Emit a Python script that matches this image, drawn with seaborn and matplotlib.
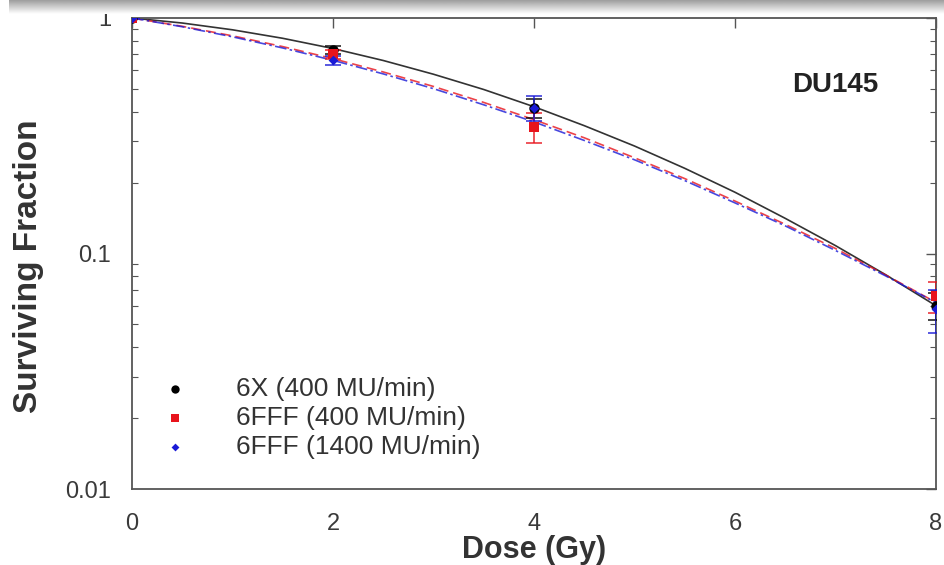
import numpy as np
import pandas as pd
import matplotlib
matplotlib.use("Agg")
import matplotlib.pyplot as plt
import seaborn as sns

# ---- data ----
dose_pts = [0, 2, 4, 8]
sf_6x = [1.0, 0.73, 0.415, 0.060]
err_6x = [0.0, 0.03, 0.04, 0.008]
sf_fff400 = [1.0, 0.70, 0.345, 0.066]
err_fff400 = [0.0, 0.03, 0.05, 0.010]
sf_fff1400 = [1.0, 0.66, 0.415, 0.058]
err_fff1400 = [0.0, 0.03, 0.05, 0.012]

curve_dose = [0, 0.5, 1, 1.5, 2, 2.5, 3, 3.5, 4, 4.5, 5, 5.5, 6, 6.5, 7, 7.5, 8]
curve_6x = [1.0, 0.952, 0.891, 0.820, 0.742, 0.660, 0.577, 0.497, 0.420,
            0.349, 0.286, 0.230, 0.182, 0.141, 0.108, 0.0812, 0.060]
curve_fff400 = [1.0, 0.922, 0.840, 0.756, 0.672, 0.590, 0.512, 0.438, 0.370,
                0.310, 0.255, 0.208, 0.167, 0.133, 0.105, 0.081, 0.062]
curve_fff1400 = [1.0, 0.918, 0.832, 0.746, 0.661, 0.579, 0.501, 0.428, 0.362,
                 0.302, 0.250, 0.204, 0.164, 0.131, 0.103, 0.0803, 0.0618]

labels = ["6X (400 MU/min)", "6FFF (400 MU/min)", "6FFF (1400 MU/min)"]
colors = ["black", "#e8141c", "#1a1ad6"]
markers = ["o", "s", "D"]
msizes = [7.5, 7, 5]
styles = ["-", (0, (6, 3)), (0, (7, 2, 1.5, 2))]

sns.set_style("white")
plt.rcParams["font.family"] = ["Liberation Sans", "DejaVu Sans"]

fig = plt.figure(figsize=(9.44, 5.65), dpi=100)
ax = fig.add_axes([132/944, 1-489/565, (936-132)/944, (489-18)/565])

pts = [sf_6x, sf_fff400, sf_fff1400]
errs = [err_6x, err_fff400, err_fff1400]
curves = [curve_6x, curve_fff400, curve_fff1400]

for i in range(3):
    df = pd.DataFrame({"Dose": curve_dose, "SF": curves[i]})
    sns.lineplot(data=df, x="Dose", y="SF", ax=ax, color=colors[i],
                 linestyle=styles[i], linewidth=1.2, alpha=0.8, legend=False)

for i in range(3):
    ax.errorbar(dose_pts, pts[i], yerr=errs[i], fmt="none", ecolor=colors[i],
                elinewidth=1.2, capsize=6, capthick=1.2, alpha=0.85, zorder=3)
    dfp = pd.DataFrame({"Dose": dose_pts, "SF": pts[i]})
    sns.scatterplot(data=dfp, x="Dose", y="SF", ax=ax, color=colors[i],
                    marker=markers[i], s=msizes[i]**2, edgecolor=colors[i],
                    linewidth=0, label=labels[i], zorder=4)

ax.set_yscale("log")
ax.set_xlim(0, 8)
ax.set_ylim(0.01, 1)
ax.set_xticks([0, 2, 4, 6, 8])
ax.set_xticklabels(["0", "2", "4", "6", "8"])
ax.set_yticks([0.01, 0.1, 1])
ax.set_yticklabels(["0.01", "0.1", "1"])
ax.tick_params(axis="both", which="major", direction="in", length=7, width=1,
               labelsize=17, colors="#555555", labelcolor="#3a3a3a",
               top=True, right=True)
ax.tick_params(axis="y", which="minor", direction="in", length=4, width=0.8,
               colors="#555555", left=True, right=True)
ax.tick_params(axis="x", pad=17)
ax.tick_params(axis="y", pad=15)
for s in ax.spines.values():
    s.set_color("#555555")
    s.set_linewidth(1.3)

ax.set_xlabel("Dose (Gy)", fontsize=22, fontweight="bold", color="#333333", labelpad=0)
ax.set_ylabel("Surviving Fraction", fontsize=24, fontweight="bold", color="#333333")
ax.yaxis.set_label_coords(-(132-28)/804, (489-266)/471)
ax.xaxis.set_label_coords(0.5, -(550-489)/471)
ax.xaxis.label.set_va("center")
ax.yaxis.label.set_va("center")

ax.text((835-132)/804, (489-85)/471, "DU145", transform=ax.transAxes, fontsize=20,
        fontweight="bold", color="#222222", ha="center", va="center")

leg = ax.legend(loc="upper left", bbox_to_anchor=(0.018, (489-366)/471), frameon=False,
                fontsize=19, handletextpad=1.6, labelspacing=0.2,
                markerscale=0.8, handlelength=1.4, borderaxespad=0)
for t in leg.get_texts():
    t.set_color("#333333")

# gray shadow band along the top edge
band = fig.add_axes([0.01, 1-14/565, 0.99, 14/565])
grad = np.linspace(0.62, 1.0, 50).reshape(-1, 1)
band.imshow(grad, aspect="auto", cmap="gray", vmin=0, vmax=1, extent=[0, 1, 0, 1])
band.axis("off")

fig.savefig("out.png", dpi=100)
